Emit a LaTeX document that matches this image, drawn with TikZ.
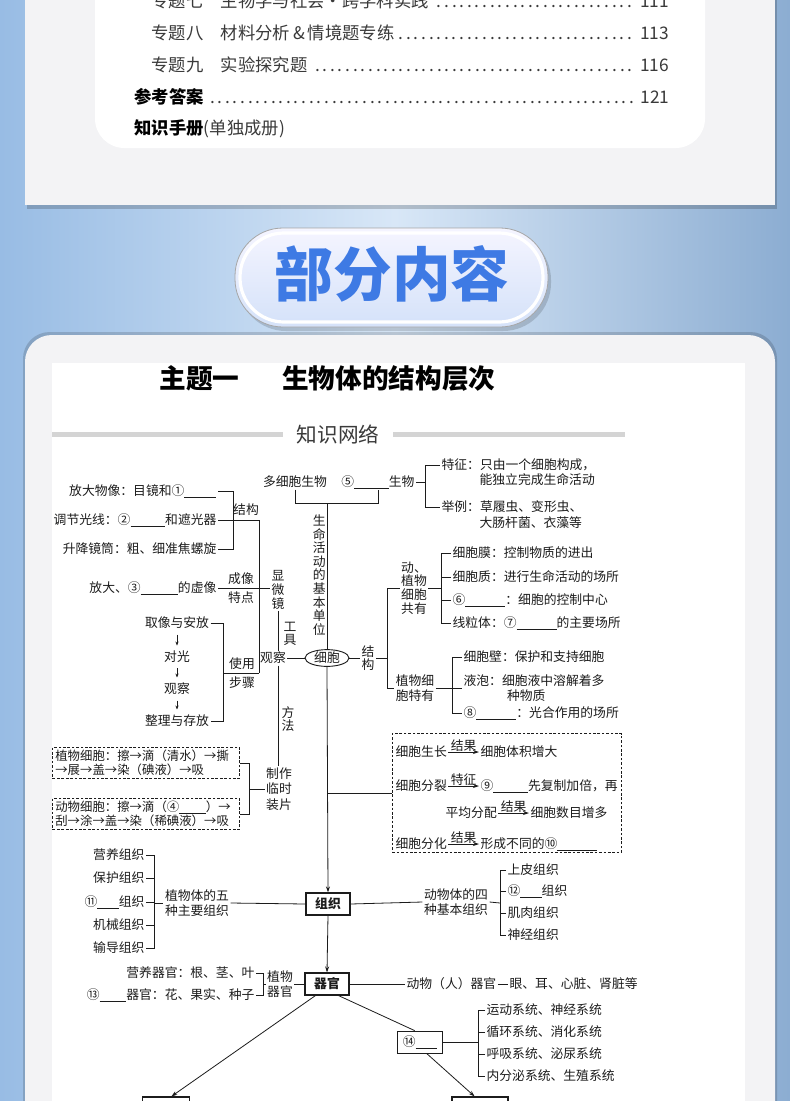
\documentclass[tikz,border=0pt]{standalone}
\usepackage{fontspec}
\setmainfont{Noto Sans CJK SC}
\usetikzlibrary{arrows.meta,positioning,shapes.geometric,calc}
\definecolor{bgblue}{RGB}{152,188,228}
\definecolor{bglight}{RGB}{216,231,247}
\definecolor{panel}{RGB}{243,243,245}
\definecolor{ink}{RGB}{28,28,28}
\definecolor{tocgray}{RGB}{58,58,58}
\definecolor{bannerblue}{RGB}{62,122,228}
\definecolor{rulegray}{RGB}{212,212,212}
\newcommand\dfont{\fontsize{9.6}{11.3}\selectfont}
\newcommand\vfont{\fontsize{9.6}{10.2}\selectfont}
\newcommand\blk[1]{\rule[-1.6pt]{#1}{0.5pt}}

\begin{document}
\begin{tikzpicture}[x=0.75pt,y=-0.75pt,
  every node/.style={font=\dfont, text=ink, inner sep=1pt},
  ln/.style={draw=ink, line width=0.6pt},
  vt/.style={font=\vfont, align=center},
  mt/.style={align=center, font=\fontsize{9.6}{11.6}\selectfont},
  lvbox/.style={draw=ink, line width=0.9pt, minimum width=33pt, minimum height=16.5pt, font=\dfont\bfseries},
  dbox/.style={draw=ink, line width=0.6pt, dash pattern=on 2pt off 1.3pt},
  toc/.style={anchor=west, font=\fontsize{13}{15}\selectfont, text=tocgray},
  >={Stealth[length=4.5pt,width=3pt]}]
\useasboundingbox (0,0) rectangle (790,1101);
\clip (0,0) rectangle (790,1101);

% page background
\shade[left color=bgblue, right color=bgblue!92!black, middle color=bglight] (0,0) rectangle (790,1101);
\fill[black, opacity=0.18] (27,-10) rectangle (777,209);
\fill[panel] (25,-10) rectangle (775,205);
\fill[white, rounded corners=22pt] (95,-60) rectangle (705,148);

% contents list
\node[toc] (c7) at (150,1) {\hbox to 388pt{专题七\quad 生物学与社会·跨学科实践\ \dotfill\ 111}};
\node[toc] (c8) at (150,33) {\hbox to 388pt{专题八\quad 材料分析\,\&\,情境题专练\dotfill\ 113}};
\node[toc] (c9) at (150,65) {\hbox to 388pt{专题九\quad 实验探究题\ \dotfill\ 116}};
\node[toc] (ans) at (133,97) {\hbox to 401pt{{\bfseries\color{black}参考答案}\ \dotfill\ 121}};
\node[toc] (kh) at (133,129) {{\bfseries\color{black}知识手册}(单独成册)};

% banner
\fill[black, opacity=0.15, rounded corners=36pt] (238,232) rectangle (551,331);
\shade[top color=blue!4!white, bottom color=bannerblue!22!white, rounded corners=36pt, draw=gray!70, line width=0.6pt] (235,228) rectangle (548,327);
\draw[white, line width=2.4pt, rounded corners=33pt] (240,233) rectangle (543,322);
\node[font=\fontsize{44}{44}\selectfont\bfseries, text=bannerblue] (bn) at (392,274) {部分内容};

% lower panel
\fill[black, opacity=0.15, rounded corners=20pt] (23,332) rectangle (777,1160);
\fill[panel, rounded corners=20pt] (25,335) rectangle (775,1160);
\fill[white] (52,363) rectangle (745,1160);

\node[anchor=west, font=\fontsize{20}{22}\selectfont\bfseries, text=black] (ttl) at (158,378) {主题一\hspace{1.6em}生物体的结构层次};
\fill[rulegray] (52,432) rectangle (283,437);
\fill[rulegray] (393,432) rectangle (625,437);
\node[font=\fontsize{15.5}{17}\selectfont, text=tocgray] (zw) at (338,434) {知识网络};

% microscope
\node[anchor=east] (m1) at (218,491) {放大物像：目镜和①\blk{24pt}};
\node[anchor=east] (m2) at (218,520) {调节光线：②\blk{26pt}和遮光器};
\node[anchor=east] (m3) at (218,549) {升降镜筒：粗、细准焦螺旋};
\node[anchor=east] (m4) at (218,588) {放大、③\blk{28pt}的虚像};
\coordinate (bj) at (233,520);
\coordinate (sv) at (259,520);
\node (jg) at (246,510) {结构};
\node (cx1) at (241,579) {成像};
\node (cx2) at (241,598) {特点};
\node (s1) at (177,623) {取像与安放};
\node (s2) at (177,657) {对光};
\node (s3) at (177,689) {观察};
\node (s4) at (177,721) {整理与存放};
\foreach \a/\b in {s1/s2,s2/s3,s3/s4}
  \draw[ln,-{Stealth[length=3pt,width=2.4pt]},shorten <=3pt,shorten >=3pt] (\a) -- (\b);
\coordinate (bs) at (223,673);
\node (sy1) at (242,664) {使用};
\node (sy2) at (242,683) {步骤};
\node[vt] (xwj) at (278,590) {显\\微\\镜};
\node[vt] (gj) at (290,634) {工\\具};
\node (gc) at (273,658) {观察};
\node[vt] (ff) at (288,719) {方\\法};
\node[mt] (zz) at (279,789) {制作\\临时\\装片};
\node[dbox, text width=136pt, align=left, inner sep=2pt, font=\fontsize{9.3}{10.6}\selectfont] (pb1) at (146,763) {植物细胞：擦→滴（清水）→撕\\→展→盖→染（碘液）→吸};
\node[dbox, text width=136pt, align=left, inner sep=2pt, font=\fontsize{9.3}{10.6}\selectfont] (pb2) at (146,814) {动物细胞：擦→滴（④\blk{20pt}）→\\刮→涂→盖→染（稀碘液）→吸};
\coordinate (bz) at (249,789);
\draw[ln] (m1.east) -- (m1.east -| bj) -- (m3.east -| bj) -- (m3.east);
\draw[ln] (m2.east) -- (sv) -- (sv |- bs);
\draw[ln] (m4.east) -- (m4.east -| xwj.west);
\draw[ln] (s1.east) -- (s1.east -| bs) -- (s4.east -| bs) -- (s4.east);
\draw[ln] (bs) -- (sv |- bs);
\draw[ln] (xwj.south) -- (xwj.south |- gc.north);
\draw[ln] (xwj.south |- gc.south) -- (xwj.south |- zz.north);
\draw[ln] (pb1.east) -- (pb1.east -| bz) -- (pb2.east -| bz) -- (pb2.east);
\draw[ln] (bz) -- (zz.west);

% cell
\node (dx) at (295,482) {多细胞生物};
\node (dy) at (378,482) {⑤\blk{26pt}生物};
\coordinate (bt) at (327,503);
\draw[ln] (dx.south) |- (bt) -| (dy.south);
\node[vt, anchor=east, inner sep=0pt] (sm) at (326,575) {生\\命\\活\\动\\的\\基\\本\\单\\位};
\node[draw=ink, ellipse, line width=0.7pt, minimum width=33pt, minimum height=12pt, inner sep=0pt] (xb) at (327,658) {细胞};
\draw[ln] (bt) -- (xb.north);
\draw[ln] (gc.east) -- (xb.west);
\node[vt] (jgr) at (368,658) {结\\构};
\draw[ln] (xb.east) -- (jgr.west);
\coordinate (bc) at (387,658);
\draw[ln] (jgr.east) -- (bc);
\node[vt] (gy) at (414,588) {动、\\植物\\细胞\\共有};
\node[mt] (tz) at (415,688) {植物细\\胞特有};
\draw[ln] (gy.west) -- (gy.west -| bc) -- (tz.west -| bc) -- (tz.west);
\coordinate (bg) at (441,588);
\draw[ln] (gy.east) -- (bg);
\node[anchor=west] (c1) at (451,553) {细胞膜：控制物质的进出};
\node[anchor=west] (c2) at (451,577) {细胞质：进行生命活动的场所};
\node[anchor=west] (c3) at (451,600) {⑥\blk{30pt}：细胞的控制中心};
\node[anchor=west] (c4) at (451,623) {线粒体：⑦\blk{30pt}的主要场所};
\draw[ln] (c1.west) -- (c1.west -| bg) -- (c4.west -| bg) -- (c4.west);
\foreach \n in {c2,c3} \draw[ln] (\n.west) -- (\n.west -| bg);
\coordinate (bp) at (452,688);
\node[anchor=west] (p1) at (462,657) {细胞壁：保护和支持细胞};
\node[anchor=west, align=left] (p2) at (462,688) {液泡：细胞液中溶解着多\\\hspace*{3.4em}种物质};
\node[anchor=west] (p3) at (462,713) {⑧\blk{30pt}：光合作用的场所};
\draw[ln] (tz.east) -- (p2.west);
\draw[ln] (p1.west) -- (p1.west -| bp) -- (p3.west -| bp) -- (p3.west);
\coordinate (bd) at (425,482);
\draw[ln] (dy.east) -- (bd);
\node[anchor=west] (f1) at (440,465) {特征：只由一个细胞构成，};
\node[anchor=west] (f1b) at (478,480) {能独立完成生命活动};
\node[anchor=west] (f2) at (440,507) {举例：草履虫、变形虫、};
\node[anchor=west] (f2b) at (478,523) {大肠杆菌、衣藻等};
\draw[ln] (f1.west) -- (f1.west -| bd) -- (f2.west -| bd) -- (f2.west);

% growth, division, differentiation
\node[dbox, minimum width=172pt, minimum height=89pt, inner sep=0pt] (db) at (507,793) {};
\draw[ln] (xb.south |- db.west) -- (db.west);
\node[anchor=west] (g1) at (394,752) {细胞生长};
\node[anchor=west] (g1r) at (479,752) {细胞体积增大};
\node[anchor=west] (g2) at (394,786) {细胞分裂};
\node[anchor=west] (g2r) at (479,786) {⑨\blk{26pt}先复制加倍，再};
\node[anchor=west] (g3) at (444,813) {平均分配};
\node[anchor=west] (g3r) at (529,813) {细胞数目增多};
\node[anchor=west] (g4) at (394,844) {细胞分化};
\node[anchor=west] (g4r) at (479,844) {形成不同的⑩\blk{30pt}};
\draw[ln,->] (g1) -- node[above=-1pt] (g1k) {结果} (g1r);
\draw[ln,->] (g2) -- node[above=-1pt] (g2k) {特征} (g2r);
\draw[ln,->] (g3) -- node[above=-1pt] (g3k) {结果} (g3r);
\draw[ln,->] (g4) -- node[above=-1pt] (g4k) {结果} (g4r);

% tissue
\node[lvbox] (zu) at (328,904) {组织};
\draw[ln,->] (xb.south) -- (zu.north);
\node[mt] (zl) at (197,903) {植物体的五\\种主要组织};
\node[anchor=east] (l1) at (146,855) {营养组织};
\node[anchor=east] (l2) at (146,878) {保护组织};
\node[anchor=east] (l3) at (146,902) {⑪\blk{16pt}组织};
\node[anchor=east] (l4) at (146,925) {机械组织};
\node[anchor=east] (l5) at (146,948) {输导组织};
\coordinate (bl) at (154,903);
\draw[ln] (l1.east) -- (l1.east -| bl) -- (l5.east -| bl) -- (l5.east);
\foreach \n in {l2,l3,l4} \draw[ln] (\n.east) -- (\n.east -| bl);
\draw[ln] (bl) -- (zl.west);
\draw[ln] (zl.east) -- (zu.west);
\node[mt] (zr) at (456,902) {动物体的四\\种基本组织};
\draw[ln] (zu.east) -- (zr.west);
\coordinate (br) at (500,903);
\draw[ln] (zr.east) -- (br);
\node[anchor=west] (r1) at (506,870) {上皮组织};
\node[anchor=west] (r2) at (506,891) {⑫\blk{16pt}组织};
\node[anchor=west] (r3) at (506,913) {肌肉组织};
\node[anchor=west] (r4) at (506,935) {神经组织};
\draw[ln] (r1.west) -- (r1.west -| br) -- (r4.west -| br) -- (r4.west);
\foreach \n in {r2,r3} \draw[ln] (\n.west) -- (\n.west -| br);

% organ
\node[lvbox] (qg) at (327,984) {器官};
\draw[ln,->] (zu.south) -- (qg.north);
\node[mt] (zq) at (280,984) {植物\\器官};
\node[anchor=east] (q1) at (256,973) {营养器官：根、茎、叶};
\node[anchor=east] (q2) at (256,995) {⑬\blk{20pt}器官：花、果实、种子};
\coordinate (bq) at (263,984);
\draw[ln] (q1.east) -- (q1.east -| bq) -- (q2.east -| bq) -- (q2.east);
\draw[ln] (bq) -- (zq.west);
\draw[ln] (zq.east) -- (qg.west);
\node[anchor=west] (dq) at (405,984) {动物（人）器官};
\node[anchor=west] (dq2) at (508,984) {眼、耳、心脏、肾脏等};
\draw[ln] (qg.east) -- (dq.west);
\draw[ln] (dq.east) -- (dq2.west);
\node[lvbox, line width=0.6pt, minimum width=34pt, font=\dfont] (xt) at (420,1042) {⑭\blk{16pt}};
\draw[ln] (qg.-45) -- (xt.115);
\coordinate (bx) at (478,1042);
\draw[ln] (xt.east) -- (bx);
\node[anchor=west] (x1) at (485,1010) {运动系统、神经系统};
\node[anchor=west] (x2) at (485,1032) {循环系统、消化系统};
\node[anchor=west] (x3) at (485,1054) {呼吸系统、泌尿系统};
\node[anchor=west] (x4) at (485,1076) {内分泌系统、生殖系统};
\draw[ln] (x1.west) -- (x1.west -| bx) -- (x4.west -| bx) -- (x4.west);
\foreach \n in {x2,x3} \draw[ln] (\n.west) -- (\n.west -| bx);
\node[lvbox, minimum width=35pt] (lb) at (166,1108) {};
\node[lvbox, minimum width=42pt] (rb) at (480,1108) {};
\draw[ln,->] (qg.-135) -- (lb.65);
\draw[ln,->] (xt.-60) -- (rb.115);
\end{tikzpicture}
\end{document}
